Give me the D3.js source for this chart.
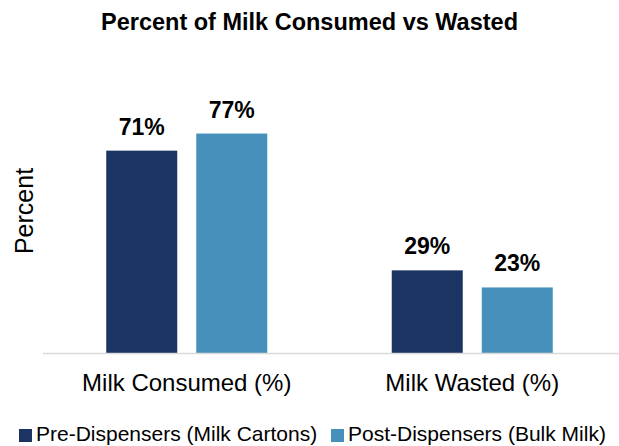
<!DOCTYPE html>
<html>
<head>
<meta charset="utf-8">
<script src="https://cdn.jsdelivr.net/npm/d3@7"></script>
<style>
  body { margin: 0; background: #fff; }
  text { font-family: "Liberation Sans", Arial, sans-serif; }
</style>
</head>
<body>
<svg id="chart" width="619" height="446"></svg>
<script>
// chart data
const categories = ['Milk Consumed (%)', 'Milk Wasted (%)'];
const seriesNames = ['Pre-Dispensers (Milk Cartons)', 'Post-Dispensers (Bulk Milk)'];
const preValues = [71, 29];
const postValues = [77, 23];
const colors = ['#1c3461', '#4690bb'];

const svg = d3.select('#chart');
const width = 619;
const baseY = 353;

const rows = categories.map((c, i) => ({ cat: c, vals: [preValues[i], postValues[i]] }));

const x0 = d3.scaleBand().domain(categories).range([44, 615]);
const x1 = d3.scaleBand().domain(seriesNames).range([0, 161]).paddingInner(19 / 90);
const groupOff = (x0.bandwidth() - 161) / 2;
const y = d3.scaleLinear().domain([0, 100]).range([baseY, 68]);

// title
svg.append('text')
  .attr('x', 309.5).attr('y', 30)
  .attr('text-anchor', 'middle')
  .attr('font-size', 23.5).attr('font-weight', 'bold')
  .text('Percent of Milk Consumed vs Wasted');

// y label
svg.append('text')
  .attr('transform', 'translate(33,211) rotate(-90)')
  .attr('text-anchor', 'middle')
  .attr('font-size', 25)
  .text('Percent');

const groups = svg.append('g').selectAll('g')
  .data(rows)
  .enter().append('g')
  .attr('transform', (d) => `translate(${x0(d.cat) + groupOff},0)`);

groups.selectAll('rect')
  .data((d) => d.vals.map((v, i) => ({ name: seriesNames[i], v, i })))
  .enter().append('rect')
  .attr('x', (d) => x1(d.name))
  .attr('width', x1.bandwidth())
  .attr('y', (d) => y(d.v))
  .attr('height', (d) => baseY - y(d.v))
  .attr('fill', (d) => colors[d.i]);

groups.selectAll('text.val')
  .data((d) => d.vals.map((v, i) => ({ name: seriesNames[i], v, i })))
  .enter().append('text')
  .attr('class', 'val')
  .attr('x', (d) => x1(d.name) + x1.bandwidth() / 2)
  .attr('y', (d) => y(d.v) - 16)
  .attr('text-anchor', 'middle')
  .attr('font-size', 23).attr('font-weight', 'bold')
  .text((d) => d.v + '%');

// baseline axis
const xAxis = svg.append('g')
  .attr('transform', `translate(0,${baseY})`)
  .call(d3.axisBottom(x0).tickSize(0).tickPadding(21));
xAxis.select('.domain').attr('d', `M43,0.5H${width}`).attr('stroke', '#d9d9d9').attr('stroke-width', 1.5);
xAxis.selectAll('text')
  .attr('font-size', 24)
  .attr('font-family', '"Liberation Sans", Arial, sans-serif')
  .attr('fill', '#000');

// legend
const legendX = [19, 331];
const legend = svg.append('g').selectAll('g')
  .data(seriesNames)
  .enter().append('g')
  .attr('transform', (d, i) => `translate(${legendX[i]},0)`);
legend.append('rect')
  .attr('x', 0).attr('y', 429).attr('width', 13).attr('height', 13)
  .attr('fill', (d, i) => colors[i]);
legend.append('text')
  .attr('x', 17).attr('y', 441)
  .attr('font-size', 21)
  .text((d) => d);
</script>
</body>
</html>
